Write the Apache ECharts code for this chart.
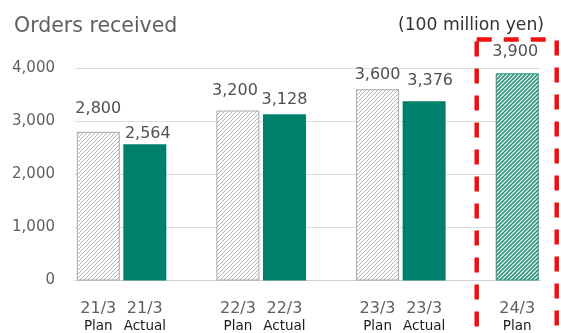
<!DOCTYPE html>
<html>
<head>
<meta charset="utf-8">
<title>Orders received</title>
<script src="https://cdn.jsdelivr.net/npm/echarts@6/dist/echarts.min.js"></script>
<style>
  html, body { margin: 0; padding: 0; background: #ffffff; }
  #chart { width: 561px; height: 333px; }
</style>
</head>
<body>
<div id="chart"></div>
<script>
// Fiscal periods and order values (100 million yen)
const periods = ['21/3', '22/3', '23/3', '24/3'];
const planValues = [2800, 3200, 3600];
const actualValues = [2564, 3128, 3376];
const nextPlanValue = 3900;
const yTicks = [0, 1000, 2000, 3000, 4000];

// Small hand placement tweaks for the value labels: [dx, lift above bar top]
const planLabelNudge = [[0, 15], [-3, 12], [0, 6]];
const actualLabelNudge = [[3, 2], [0, 6], [6, 12]];
const nextLabelNudge = [-2, 13];

const FONT = 'DejaVu Sans';

function hatch(bg, line, width, size) {
  const c = document.createElement('canvas');
  c.width = size; c.height = size;
  const g = c.getContext('2d');
  g.fillStyle = bg;
  g.fillRect(0, 0, size, size);
  g.strokeStyle = line;
  g.lineWidth = width;
  g.beginPath();
  g.moveTo(0, size); g.lineTo(size, 0);
  g.moveTo(-1, 1); g.lineTo(1, -1);
  g.moveTo(size - 1, size + 1); g.lineTo(size + 1, size - 1);
  g.stroke();
  return { image: c, repeat: 'repeat' };
}

const grayHatch = hatch('#ffffff', '#b4b4b4', 1, 4);
const greenHatch = hatch('#ffffff', '#2a957b', 1.6, 4);

// Category slots: Plan, Actual, spacer for each past period, then next plan
const categories = [];
const planData = [];
const actualData = [];
const nextData = [];
for (let i = 0; i < planValues.length; i++) {
  categories.push(periods[i] + '|Plan');
  planData.push({ value: planValues[i], label: { offset: [planLabelNudge[i][0], -planLabelNudge[i][1]] } });
  actualData.push('-');
  nextData.push('-');
  categories.push(periods[i] + '|Actual');
  planData.push('-');
  actualData.push({ value: actualValues[i], label: { offset: [actualLabelNudge[i][0], -actualLabelNudge[i][1]] } });
  nextData.push('-');
  categories.push('');
  planData.push('-'); actualData.push('-'); nextData.push('-');
}
categories.push(periods[3] + '|Plan');
planData.push('-'); actualData.push('-');
nextData.push({ value: nextPlanValue, label: { offset: [nextLabelNudge[0], -nextLabelNudge[1]] } });

const fmt = v => Number(v).toLocaleString('en-US');

const valueLabel = {
  show: true,
  position: 'top',
  distance: 0,
  fontFamily: FONT,
  fontSize: 16,
  color: '#505050',
  formatter: p => fmt(p.value)
};

const chart = echarts.init(document.getElementById('chart'), null, { renderer: 'canvas' });

chart.setOption({
  animation: false,
  backgroundColor: '#ffffff',
  textStyle: { fontFamily: FONT },
  title: [
    {
      text: 'Orders received',
      left: 9, top: 11,
      textStyle: { fontFamily: FONT, fontSize: 20.5, fontWeight: 'normal', color: '#5f5f5f' }
    },
    {
      text: '(100 million yen)',
      right: 12, top: 12,
      textStyle: { fontFamily: FONT, fontSize: 17.2, fontWeight: 'normal', color: '#333333' }
    }
  ],
  grid: { left: 75, right: 20.5, top: 68, bottom: 50, containLabel: false },
  xAxis: {
    type: 'category',
    data: categories,
    axisTick: { show: false },
    axisLine: { lineStyle: { color: '#d0d0d0', width: 1 } },
    axisLabel: {
      interval: 0,
      margin: 19,
      formatter: v => {
        if (!v) return '';
        const [per, kind] = v.split('|');
        return '{p|' + per + '}\n{k|' + kind + '}';
      },
      rich: {
        p: { fontFamily: FONT, fontSize: 16, color: '#5f5f5f', lineHeight: 18 },
        k: { fontFamily: FONT, fontSize: 13.5, color: '#1a1a1a', lineHeight: 17 }
      }
    }
  },
  yAxis: {
    type: 'value',
    min: yTicks[0],
    max: yTicks[yTicks.length - 1],
    interval: 1000,
    axisLine: { show: false },
    axisTick: { show: false },
    splitLine: { lineStyle: { color: '#dcdcdc', width: 1 } },
    axisLabel: {
      margin: 20,
      fontFamily: FONT,
      fontSize: 15,
      color: '#5f5f5f',
      formatter: v => fmt(v)
    }
  },
  series: [
    {
      name: 'Plan',
      type: 'bar',
      data: planData,
      barWidth: 43,
      barGap: '-100%',
      itemStyle: { color: grayHatch, borderColor: '#a8a8a8', borderWidth: 1 },
      label: valueLabel
    },
    {
      name: 'Actual',
      type: 'bar',
      data: actualData,
      barWidth: 43,
      barGap: '-100%',
      itemStyle: { color: '#00806a' },
      label: valueLabel
    },
    {
      name: 'Next plan',
      type: 'bar',
      data: nextData,
      barWidth: 43,
      barGap: '-100%',
      itemStyle: { color: greenHatch, borderColor: '#2a957b', borderWidth: 1 },
      label: valueLabel
    }
  ]
});

// Red dashed frame around the upcoming-period column
const lastX = chart.convertToPixel({ xAxisIndex: 0 }, categories[categories.length - 1]);
chart.setOption({
  graphic: [{
    type: 'rect',
    silent: true,
    shape: { x: lastX - 40.5, y: 39.5, width: 80, height: 320 },
    style: { fill: 'none', stroke: '#ee1111', lineWidth: 4.5, lineDash: [15, 12] },
    z: 10
  }]
});
</script>
</body>
</html>
